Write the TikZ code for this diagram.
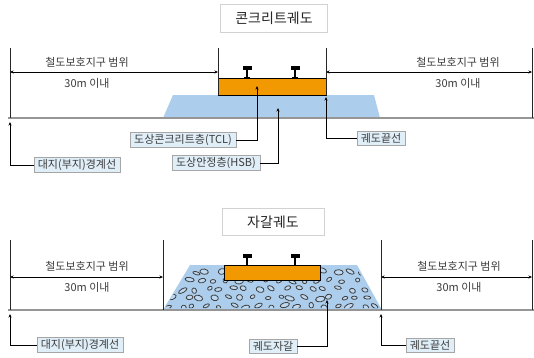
\documentclass[tikz,border=0pt]{standalone}
\usepackage{fontspec}
\setmainfont{Noto Sans CJK KR}
\usetikzlibrary{arrows.meta,positioning}

\definecolor{orangevoie}{RGB}{242,152,0}
\definecolor{bleuballast}{RGB}{172,206,236}
\definecolor{bleuetiq}{RGB}{224,238,248}
\definecolor{grissol}{RGB}{150,150,150}
\definecolor{texte}{RGB}{60,60,60}

\tikzset{
  etiquette/.style={draw=gray!70, fill=bleuetiq, inner xsep=4pt, inner ysep=2pt,
    font=\fontsize{11}{12}\selectfont, text=texte},
  titre/.style={draw=gray!35, fill=white, minimum width=107pt, minimum height=28pt,
    font=\fontsize{14}{15}\selectfont, text=black!85},
  mot/.style={font=\fontsize{11}{12}\selectfont, text=texte},
  fleche/.style={-{Stealth[length=3.5pt,width=3pt]}, line width=0.7pt},
  cote/.style={{Stealth[length=3.5pt,width=3pt]}-{Stealth[length=3.5pt,width=3pt]}, line width=0.6pt},
  borne/.style={line width=0.8pt, black!85},
  sol/.style={line width=2.5pt, grissol},
  caillou/.style={draw=black!75, line width=0.8pt, fill=bleuballast!80!white},
}

% un rail vu en coupe : abscisse, haut du champignon
\newcommand{\rail}[2]{%
  \fill (#1-4.5,#2) rectangle (#1+4.5,#2+4);
  \draw[line width=1.1pt] (#1,#2+4) -- (#1,#2+12);
  \draw[line width=1pt] (#1-3,#2+11.5) -- (#1+3,#2+11.5);
}

\begin{document}
\begin{tikzpicture}[x=1pt,y=-1pt]
  \useasboundingbox (0,0) rectangle (534,357);

  %%%%%%%%%% voie beton
  \node[titre] (titre1) at (274,18) {콘크리트궤도};
  % couche de fondation
  \fill[bleuballast] (163,118) -- (173,95) -- (374,95) -- (380,118) -- cycle;
  % dalle et rails
  \draw[fill=orangevoie, line width=0.7pt] (218,78) rectangle (326,95);
  \rail{247}{66}
  \rail{295}{66}
  % le sol
  \draw[sol] (8,118) -- (534,118);
  % limites
  \draw[borne] (10,48) -- (10,118);
  \draw[borne] (218,48) -- (218,95);
  \draw[borne] (326,48) -- (326,95);
  \draw[borne] (532,48) -- (532,118);
  % zones de protection
  \coordinate (c1g) at (10,72);
  \coordinate (c1m) at (218,72);
  \coordinate (c1n) at (326,72);
  \coordinate (c1d) at (532,72);
  \draw[cote] (c1g) -- (c1m);
  \draw[cote] (c1n) -- (c1d);
  \node[mot] (zone1g) at (87,62) {철도보호지구 범위};
  \node[mot] (dist1g) at (87,83) {30m 이내};
  \node[mot] (zone1d) at (458,62) {철도보호지구 범위};
  \node[mot] (dist1d) at (458,83) {30m 이내};
  % etiquettes
  \node[etiquette] (lim1) at (77,165) {대지(부지)경계선};
  \node[etiquette] (tcl) at (183,140) {도상콘크리트층(TCL)};
  \node[etiquette] (hsb) at (216,163) {도상안정층(HSB)};
  \node[etiquette] (bord1) at (381,138) {궤도끝선};
  \coordinate (plim1) at (10,122);
  \coordinate (ptcl) at (257,86);
  \coordinate (phsb) at (278,108);
  \coordinate (pbord1) at (326,97);
  \draw[fleche] (lim1.west) -| (plim1);
  \draw[fleche] (tcl.east) -| (ptcl);
  \draw[fleche] (hsb.east) -| (phsb);
  \draw[fleche] (bord1.west) -| (pbord1);

  %%%%%%%%%% voie ballast
  \node[titre, minimum width=102pt, minimum height=27pt] (titre2) at (273,222) {자갈궤도};
  % le ballast
  \fill[bleuballast] (163,310) -- (190,265) -- (357,265) -- (382,310) -- cycle;
  \begin{scope}
    \clip (165,308) -- (191,267) -- (356,267) -- (380,308) -- cycle;
    \pgfmathsetseed{23}
    \foreach \i in {0,...,4}{
      \foreach \j in {0,...,16}{
        \pgfmathsetmacro{\px}{168+\j*13+mod(\i,2)*6.5+rand*3}
        \pgfmathsetmacro{\py}{272+\i*8.6+rand*1.6}
        \pgfmathsetmacro{\rx}{2+rnd*3}
        \pgfmathsetmacro{\ry}{1.5+rnd*1.4}
        \pgfmathsetmacro{\ang}{rand*35}
        \draw[caillou, rotate around={\ang:(\px,\py)}] (\px,\py) ellipse ({\rx pt} and {\ry pt});
      }
    }
  \end{scope}
  % traverse et rails
  \draw[fill=orangevoie, line width=0.7pt] (224,265) rectangle (320,280);
  \rail{247}{254}
  \rail{295}{254}
  % le sol
  \draw[sol] (8,310) -- (534,310);
  % limites
  \draw[borne] (10,240) -- (10,310);
  \draw[borne] (163,240) -- (163,310);
  \draw[borne] (381,240) -- (381,310);
  \draw[borne] (532,240) -- (532,310);
  % zones de protection
  \coordinate (c2g) at (10,277);
  \coordinate (c2m) at (163,277);
  \coordinate (c2n) at (381,277);
  \coordinate (c2d) at (532,277);
  \draw[cote] (c2g) -- (c2m);
  \draw[cote] (c2n) -- (c2d);
  \node[mot] (zone2g) at (87,266) {철도보호지구 범위};
  \node[mot] (dist2g) at (87,287) {30m 이내};
  \node[mot] (zone2d) at (459,266) {철도보호지구 범위};
  \node[mot] (dist2d) at (459,287) {30m 이내};
  % etiquettes
  \node[etiquette] (lim2) at (80,345) {대지(부지)경계선};
  \node[etiquette] (gravier) at (273,346) {궤도자갈};
  \node[etiquette] (bord2) at (430,345) {궤도끝선};
  \coordinate (plim2) at (10,314);
  \coordinate (pgravier) at (327,300);
  \coordinate (pbord2) at (381,314);
  \draw[fleche] (lim2.west) -| (plim2);
  \draw[fleche] (gravier.east) -| (pgravier);
  \draw[fleche] (bord2.west) -| (pbord2);
\end{tikzpicture}
\end{document}
